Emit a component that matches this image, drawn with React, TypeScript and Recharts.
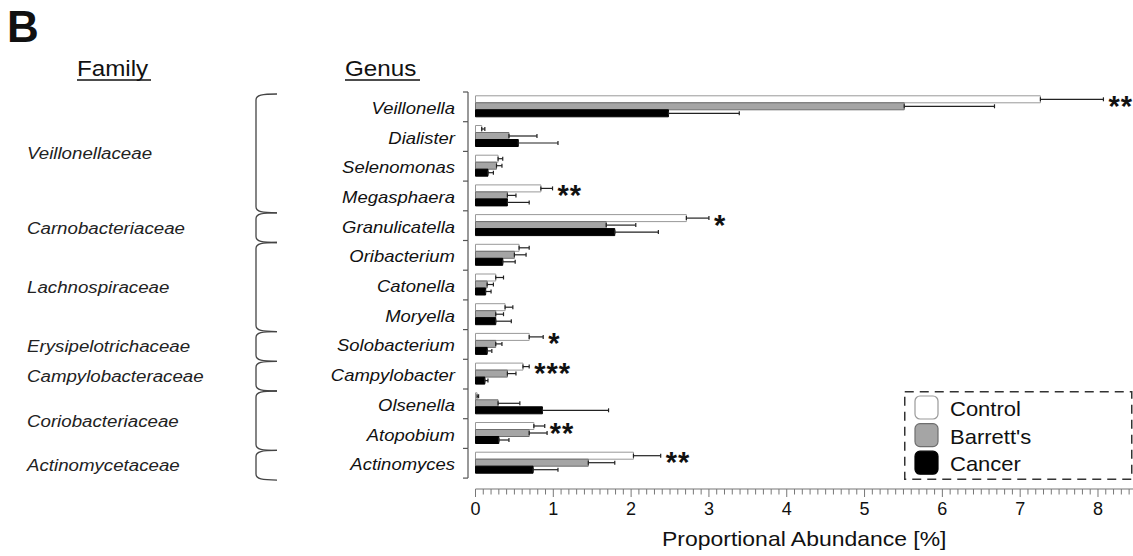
import React from 'react';
import { BarChart, Bar, XAxis, YAxis, ErrorBar, Legend, LabelList } from 'recharts';

const genera = [
  'Veillonella', 'Dialister', 'Selenomonas', 'Megasphaera', 'Granulicatella', 'Oribacterium',
  'Catonella', 'Moryella', 'Solobacterium', 'Campylobacter', 'Olsenella', 'Atopobium', 'Actinomyces',
];
const control = [7.26, 0.08, 0.29, 0.84, 2.71, 0.56, 0.26, 0.38, 0.69, 0.61, 0.02, 0.75, 2.03];
const controlErr = [0.81, 0.04, 0.06, 0.15, 0.29, 0.13, 0.1, 0.1, 0.18, 0.08, 0.02, 0.14, 0.35];
const barretts = [5.51, 0.43, 0.27, 0.41, 1.68, 0.5, 0.15, 0.26, 0.26, 0.41, 0.29, 0.69, 1.45];
const barrettsErr = [1.16, 0.36, 0.07, 0.11, 0.38, 0.15, 0.08, 0.1, 0.08, 0.11, 0.28, 0.23, 0.34];
const cancer = [2.48, 0.55, 0.16, 0.41, 1.79, 0.35, 0.13, 0.26, 0.15, 0.12, 0.86, 0.3, 0.74];
const cancerErr = [0.91, 0.51, 0.07, 0.28, 0.56, 0.16, 0.07, 0.2, 0.06, 0.04, 0.85, 0.13, 0.32];
const stars = ['**', '', '', '**', '*', '', '', '', '*', '***', '', '**', '**'];

const families = [
  'Veillonellaceae', 'Carnobacteriaceae', 'Lachnospiraceae', 'Erysipelotrichaceae',
  'Campylobacteraceae', 'Coriobacteriaceae', 'Actinomycetaceae',
];
const familySizes = [4, 1, 3, 1, 1, 2, 1];

const seriesNames = ['Control', "Barrett's", 'Cancer'];
const xMajorTicks = [0, 1, 2, 3, 4, 5, 6, 7, 8];
const X_MAX = 8.45;

// layout
const W = 1133;
const H = 556;
const PLOT_LEFT = 475.5;
const PLOT_TOP = 92;
const PLOT_BOTTOM = 478.1;
const ROW_H = (PLOT_BOTTOM - PLOT_TOP) / genera.length;
const PX_PER_UNIT = (W - PLOT_LEFT) / X_MAX;
const STRETCH = 1.12;
const FONT = '"Liberation Sans", Arial, Helvetica, sans-serif';

const xTicks: number[] = [];
for (let i = 0; i <= 84; i++) xTicks.push(i / 10);

const familyStart: Record<number, number> = {};
{
  let acc = 0;
  familySizes.forEach((n, f) => {
    familyStart[acc] = f;
    acc += n;
  });
}

const data = genera.map((genus, i) => ({
  genus,
  control: control[i],
  controlErr: [0, controlErr[i]],
  barretts: barretts[i],
  barrettsErr: [0, barrettsErr[i]],
  cancer: cancer[i],
  cancerErr: [0, cancerErr[i]],
  stars: stars[i],
}));

function SText({ x, y, sx = STRETCH, children, ...rest }: any) {
  return (
    <text transform={`translate(${x},${y}) scale(${sx},1)`} fontFamily={FONT} {...rest}>
      {children}
    </text>
  );
}

function YTick(props: any) {
  const { y, payload, index } = props;
  const axisX = PLOT_LEFT - 7.5;
  const top = y - ROW_H / 2;
  const bottom = y + ROW_H / 2;
  const f = familyStart[index];
  let brace = null;
  if (f !== undefined) {
    const yTop = top + 2;
    const yBot = top + familySizes[f] * ROW_H + 2;
    const mid = (top + top + familySizes[f] * ROW_H) / 2;
    brace = (
      <g>
        <path
          d={`M277,${yTop} C262,${yTop} 256,${yTop + 1} 256,${yTop + 6} L256,${yBot - 6} C256,${yBot - 1} 262,${yBot} 277,${yBot}`}
          fill="none"
          stroke="#444"
          strokeWidth={1.3}
        />
        <SText x={27} y={mid + 8} fontSize={17} fontStyle="italic" fill="#222" sx={1.1}>
          {families[f]}
        </SText>
      </g>
    );
  }
  return (
    <g>
      <line x1={axisX} y1={top} x2={axisX} y2={bottom} stroke="#555" strokeWidth={1.2} />
      <line x1={axisX - 5} y1={top} x2={axisX} y2={top} stroke="#555" strokeWidth={1.2} />
      {index === genera.length - 1 && (
        <line x1={axisX - 5} y1={bottom} x2={axisX} y2={bottom} stroke="#555" strokeWidth={1.2} />
      )}
      <SText x={455} y={y + 7} fontSize={16.5} fontStyle="italic" textAnchor="end" fill="#111">
        {payload.value}
      </SText>
      {brace}
    </g>
  );
}

function XTick(props: any) {
  const { x, payload } = props;
  const v = payload.value;
  const major = xMajorTicks.some((m) => Math.abs(m - v) < 1e-6);
  const axisY = 489;
  return (
    <g>
      {v === 0 && <line x1={x} y1={axisY} x2={W} y2={axisY} stroke="#777" strokeWidth={1.2} />}
      <line x1={x} y1={axisY} x2={x} y2={axisY + (major ? 8 : 5.5)} stroke="#777" strokeWidth={1} />
      {major && (
        <text x={x} y={514.5} textAnchor="middle" fontSize={18} fontFamily={FONT} fill="#111">
          {Math.round(v)}
        </text>
      )}
    </g>
  );
}

function StarLabel(props: any) {
  const { x, y, height, index, value } = props;
  if (!value) return null;
  const end = x + (control[index] + controlErr[index]) * PX_PER_UNIT + 5;
  return (
    <text
      x={end}
      y={y + height / 2 + 16.5}
      fontSize={29}
      fontWeight="bold"
      fontFamily={FONT}
      fill="#111"
      letterSpacing={1}
    >
      {value}
    </text>
  );
}

function AxisTitle(props: any) {
  const { viewBox } = props;
  const cx = viewBox.x + viewBox.width / 2;
  return (
    <SText x={cx} y={545.5} fontSize={20.5} textAnchor="middle" fill="#111">
      Proportional Abundance [%]
    </SText>
  );
}

function LegendBox(props: any) {
  const payload = [...(props.payload || [])].sort(
    (a: any, b: any) => seriesNames.indexOf(a.value) - seriesNames.indexOf(b.value),
  );
  return (
    <svg width={229} height={90} style={{ display: 'block' }}>
      <rect x={0.75} y={0.75} width={227} height={87.5} fill="#fff" stroke="#333" strokeWidth={1.5} strokeDasharray="9 6" />
      {payload.map((entry: any, i: number) => (
        <g key={entry.value}>
          <rect
            x={11}
            y={5 + i * 27.6}
            width={23}
            height={23}
            rx={5}
            fill={entry.color}
            stroke={entry.payload?.stroke ?? '#888'}
            strokeWidth={1.2}
          />
          <SText x={46} y={25 + i * 27.6} fontSize={20} fill="#111" sx={1.1}>
            {entry.value}
          </SText>
        </g>
      ))}
    </svg>
  );
}

export default function App() {
  return (
    <div style={{ position: 'absolute', left: 0, top: 0, width: W, height: H, background: '#fff' }}>
      <BarChart
        width={W}
        height={H}
        data={data}
        layout="vertical"
        margin={{ top: PLOT_TOP, right: 0, bottom: H - PLOT_BOTTOM - 60, left: 0 }}
        barCategoryGap={3.8}
        barGap={0}
      >
        <XAxis
          type="number"
          domain={[0, X_MAX]}
          ticks={xTicks}
          interval={0}
          height={60}
          tickLine={false}
          axisLine={false}
          tickSize={0}
          tickMargin={0}
          tick={(p: any) => <XTick {...p} />}
          label={{ content: (p: any) => <AxisTitle {...p} /> }}
        />
        <YAxis
          type="category"
          dataKey="genus"
          width={PLOT_LEFT}
          interval={0}
          tickLine={false}
          axisLine={false}
          tickSize={0}
          tickMargin={0}
          tick={(p: any) => <YTick {...p} />}
        />
        <Legend
          layout="vertical"
          align="center"
          verticalAlign="middle"
          wrapperStyle={{ left: 904, top: 391, width: 229, height: 90 }}
          content={(p: any) => <LegendBox {...p} />}
        />
        <Bar dataKey="control" name="Control" fill="#ffffff" stroke="#999" strokeWidth={1} isAnimationActive={false}>
          <ErrorBar dataKey="controlErr" direction="x" width={2} stroke="#222" strokeWidth={1.2} />
          <LabelList dataKey="stars" content={(p: any) => <StarLabel {...p} />} />
        </Bar>
        <Bar dataKey="barretts" name="Barrett's" fill="#a5a5a5" stroke="#6e6e6e" strokeWidth={1} isAnimationActive={false}>
          <ErrorBar dataKey="barrettsErr" direction="x" width={2} stroke="#222" strokeWidth={1.2} />
        </Bar>
        <Bar dataKey="cancer" name="Cancer" fill="#000000" stroke="#000" strokeWidth={1} isAnimationActive={false}>
          <ErrorBar dataKey="cancerErr" direction="x" width={2} stroke="#222" strokeWidth={1.2} />
        </Bar>
      </BarChart>
      <svg width={W} height={H} style={{ position: 'absolute', left: 0, top: 0, pointerEvents: 'none' }}>
        <text x={7} y={42} fontSize={44} fontWeight="bold" fontFamily={FONT} fill="#111">
          B
        </text>
        <SText x={77} y={76} fontSize={22} fill="#111" sx={1.1}>
          Family
        </SText>
        <line x1={77} y1={80} x2={151} y2={80} stroke="#111" strokeWidth={1.5} />
        <SText x={345} y={76} fontSize={22} fill="#111" sx={1.1}>
          Genus
        </SText>
        <line x1={345} y1={80} x2={420} y2={80} stroke="#111" strokeWidth={1.5} />
      </svg>
    </div>
  );
}
